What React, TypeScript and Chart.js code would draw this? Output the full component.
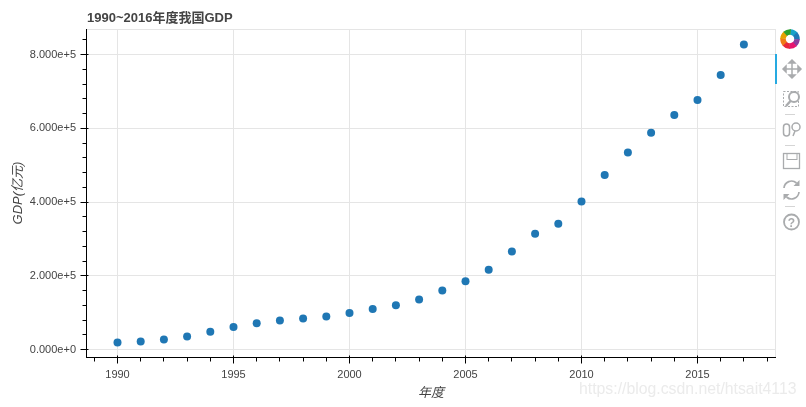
import React, { useEffect, useRef } from "react";
import { Chart, registerables } from "chart.js";

Chart.register(...registerables);

const years = [1990, 1991, 1992, 1993, 1994, 1995, 1996, 1997, 1998, 1999, 2000, 2001, 2002, 2003, 2004, 2005, 2006, 2007, 2008, 2009, 2010, 2011, 2012, 2013, 2014, 2015, 2016, 2017];
const gdp = [18668, 21781, 26924, 35334, 48198, 60794, 71176, 78973, 84402, 89677, 99214, 109655, 120333, 135822, 159878, 184937, 216314, 265810, 314045, 340903, 401202, 472882, 534123, 588019, 635910, 676708, 744127, 827122];
const xTicks = [1989, 1990, 1991, 1992, 1993, 1994, 1995, 1996, 1997, 1998, 1999, 2000, 2001, 2002, 2003, 2004, 2005, 2006, 2007, 2008, 2009, 2010, 2011, 2012, 2013, 2014, 2015, 2016, 2017, 2018];
const yTicks = [0, 40000, 80000, 120000, 160000, 200000, 240000, 280000, 320000, 360000, 400000, 440000, 480000, 520000, 560000, 600000, 640000, 680000, 720000, 760000, 800000, 840000];
const titleText = "1990~2016年度我国GDP";
const xTitle = "年度";
const yTitle = "GDP(亿元)";
const watermark = "https://blog.csdn.net/htsait4113";
const logoColors = ["#17a2c8", "#1f77b4", "#8e3a9d", "#e6136f", "#e8283a", "#f07b16", "#e6a100", "#2ca02c"];

const FONT = "'Liberation Sans', Arial, 'Noto Sans CJK SC', sans-serif";
const INK = "#444444";
const GRID = "#e5e5e5";

const isMajorX = (v: number) => v % 5 === 0;
const isMajorY = (v: number) => v % 200000 === 0;

const frame = {
  id: "frame",
  beforeDatasetsDraw(c: any) {
    const { ctx, chartArea: a } = c;
    ctx.save();
    ctx.strokeStyle = GRID;
    ctx.lineWidth = 1;
    ctx.strokeRect(Math.round(a.left) + 0.5, Math.round(a.top) + 0.5, Math.round(a.right - a.left) - 1, Math.round(a.bottom - a.top));
    ctx.fillStyle = INK;
    ctx.font = `bold 13px ${FONT}`;
    ctx.textAlign = "left";
    ctx.textBaseline = "alphabetic";
    ctx.fillText(titleText, Math.round(a.left) + 1, 22);
    ctx.restore();
  },
  afterDatasetsDraw(c: any) {
    const { ctx, chartArea: a, scales } = c;
    const bx = Math.round(a.bottom) + 0.5;
    const lx = Math.round(a.left) + 0.5;
    ctx.save();
    ctx.strokeStyle = "#000";
    ctx.lineWidth = 1;
    ctx.beginPath();
    ctx.moveTo(lx - 0.5, bx);
    ctx.lineTo(a.right, bx);
    ctx.moveTo(lx, a.top);
    ctx.lineTo(lx, bx);
    for (const t of scales.x.ticks) {
      const p = Math.floor(scales.x.getPixelForValue(t.value)) + 0.5;
      const major = isMajorX(t.value);
      ctx.moveTo(p, bx - (major ? 2 : 0));
      ctx.lineTo(p, bx + (major ? 6 : 4));
    }
    for (const t of scales.y.ticks) {
      const p = Math.floor(scales.y.getPixelForValue(t.value)) + 0.5;
      const major = isMajorY(t.value);
      ctx.moveTo(lx + (major ? 2 : 0), p);
      ctx.lineTo(lx - (major ? 6 : 4), p);
    }
    ctx.stroke();
    ctx.restore();
  },
};

const Toolbar = () => {
  const g = "#a9abad";
  const cx = 15, cy = 29;
  const arc = (i: number) => {
    const a0 = ((i * 45 - 90 + 2) * Math.PI) / 180;
    const a1 = ((i * 45 - 45 + 6) * Math.PI) / 180;
    const r = 7;
    return `M${cx + r * Math.cos(a0)} ${cy + r * Math.sin(a0)}A${r} ${r} 0 0 1 ${cx + r * Math.cos(a1)} ${cy + r * Math.sin(a1)}`;
  };
  return (
    <svg width={31} height={347} viewBox="0 0 31 347" style={{ position: "absolute", left: 775, top: 10 }}>
      <line x1={0.5} y1={19} x2={0.5} y2={347} stroke="#e5e5e5" />
      <rect x={0} y={44} width={2} height={30} fill="#26aae1" />
      {logoColors.map((col, i) => (
        <path key={col} d={arc(i)} fill="none" stroke={col} strokeWidth={5.5} />
      ))}
      <g stroke={g} strokeWidth={1.5} fill={g}>
        <line x1={9} y1={59} x2={25} y2={59} />
        <line x1={17} y1={51} x2={17} y2={67} />
        <path d="M8 59l3-3v6zM26 59l-3-3v6zM17 50l-3 3h6zM17 68l-3-3h6z" />
      </g>
      <rect x={8.5} y={81.5} width={15} height={15} fill="none" stroke={g} strokeDasharray="2 1.5" />
      <circle cx={19} cy={87} r={5} fill="#fff" stroke={g} strokeWidth={2} />
      <line x1={15.5} y1={91} x2={11} y2={96} stroke={g} strokeWidth={2.4} />
      <line x1={10} y1={104.5} x2={20} y2={104.5} stroke="#d5d5d5" />
      <rect x={8.5} y={114} width={6} height={12} rx={3} fill="none" stroke={g} strokeWidth={1.5} />
      <circle cx={21} cy={117} r={4} fill="none" stroke={g} strokeWidth={1.5} />
      <line x1={20} y1={121} x2={18} y2={126} stroke={g} strokeWidth={1.5} />
      <line x1={10} y1={135.5} x2={20} y2={135.5} stroke="#d5d5d5" />
      <rect x={8.5} y={143.5} width={16} height={15} fill="none" stroke={g} strokeWidth={1.3} />
      <rect x={12} y={143.5} width={10} height={6} fill="none" stroke={g} />
      <path d="M9 178a7.5 7.5 0 0 1 12.5-5M24 182a7.5 7.5 0 0 1-12.5 5" fill="none" stroke={g} strokeWidth={1.7} />
      <path d="M24.5 170v6h-6zM8.500 190v-6h6z" fill={g} />
      <line x1={10} y1={196.5} x2={20} y2={196.5} stroke="#d5d5d5" />
      <circle cx={16.5} cy={212} r={7.5} fill="none" stroke={g} strokeWidth={1.8} />
      <text x={16.5} y={216.5} textAnchor="middle" fontSize={12} fontWeight={700} fill={g} fontFamily={FONT}>?</text>
    </svg>
  );
};

export default function App() {
  const ref = useRef<HTMLCanvasElement>(null);
  useEffect(() => {
    const chart = new Chart(ref.current as HTMLCanvasElement, {
      type: "scatter",
      data: {
        datasets: [{
          data: years.map((y, i) => ({ x: y, y: gdp[i] })),
          backgroundColor: "#1f77b4",
          borderWidth: 0,
          pointBorderWidth: 0,
          pointRadius: 4,
          pointHoverRadius: 4,
        }],
      },
      plugins: [frame],
      options: {
        animation: false,
        responsive: false,
        layout: { padding: { top: 29, right: 30, left: 0, bottom: 0 } },
        plugins: {
          legend: { display: false },
          tooltip: { enabled: false },
        },
        scales: {
          x: {
            type: "linear",
            min: 1988.642,
            max: 2018.384,
            afterBuildTicks: (s: any) => { s.ticks = xTicks.map((value) => ({ value })); },
            afterFit: (s: any) => { s.height = 50; },
            border: { display: false },
            grid: {
              drawTicks: false,
              color: (c: any) => (c.tick && isMajorX(c.tick.value) ? GRID : "rgba(0,0,0,0)"),
            },
            ticks: {
              autoSkip: false,
              maxRotation: 0,
              color: INK,
              padding: 11,
              font: { family: FONT, size: 11 },
              callback: (v: any) => (isMajorX(Number(v)) ? String(v) : ""),
            },
            title: {
              display: true,
              text: xTitle,
              color: INK,
              font: { family: FONT, size: 13, style: "italic" },
              padding: { top: 0, bottom: 6 },
            },
          },
          y: {
            type: "linear",
            min: -20339,
            max: 869153,
            afterBuildTicks: (s: any) => { s.ticks = yTicks.map((value) => ({ value })); },
            afterFit: (s: any) => { s.width = 86; },
            border: { display: false },
            grid: {
              drawTicks: false,
              color: (c: any) => (c.tick && isMajorY(c.tick.value) ? GRID : "rgba(0,0,0,0)"),
            },
            ticks: {
              autoSkip: false,
              color: INK,
              padding: 10,
              font: { family: FONT, size: 11 },
              callback: (v: any) => (isMajorY(Number(v)) ? Number(v).toExponential(3) : ""),
            },
            title: {
              display: true,
              text: yTitle,
              color: INK,
              font: { family: FONT, size: 13, style: "italic" },
              padding: { top: 11, bottom: 0 },
            },
          },
        },
      },
    } as any);
    return () => chart.destroy();
  }, []);

  return (
    <div style={{ position: "fixed", left: 0, top: 0, width: 806, height: 407, background: "#fff", overflow: "hidden" }}>
      <canvas ref={ref} width={806} height={407} style={{ display: "block" }} />
      <Toolbar />
      <div style={{ position: "absolute", left: 579, top: 380, fontFamily: FONT, fontSize: 15.8, color: "#ebebeb", whiteSpace: "nowrap" }}>{watermark}</div>
    </div>
  );
}
